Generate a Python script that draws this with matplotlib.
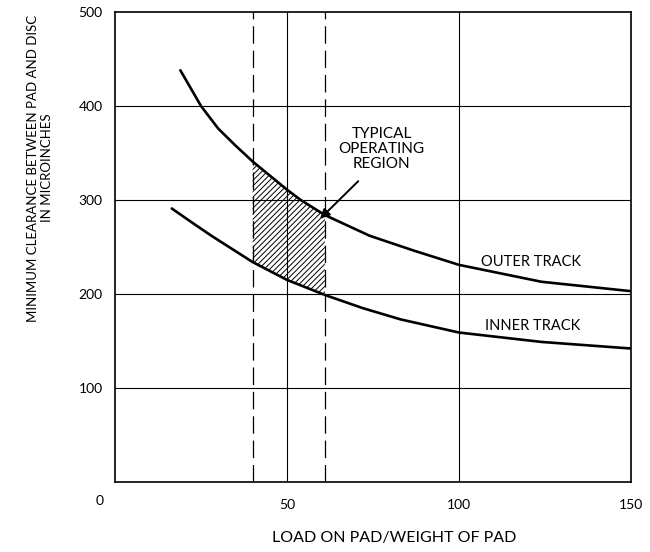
import numpy as np
import matplotlib.pyplot as plt
from matplotlib.patches import Polygon

plt.rcParams['font.family'] = ['Lato', 'DejaVu Sans']
plt.rcParams['hatch.linewidth'] = 0.7

# clearance curves (load, clearance in microinches)
outer_x = [19, 25, 30, 35, 40, 50, 54, 61, 74, 87, 100, 124, 150]
outer_y = [438, 400, 376, 358, 341, 311, 300, 284, 262, 246, 231, 213, 203]
inner_x = [16.5, 22, 28, 34, 40, 50, 61, 72, 83, 100, 124, 150]
inner_y = [291, 277, 262, 248, 234, 215, 199, 185, 173, 159, 149, 142]

# typical operating range of load
region_lo = 40
region_hi = 61

x_ticks = [50, 100, 150]
y_ticks = [100, 200, 300, 400, 500]

fig = plt.figure(figsize=(6.5, 5.52), dpi=100)
ax = fig.add_axes([115/650, 1 - 482/552, (631 - 115)/650, (482 - 12)/552])
ax.set_xlim(0, 150)
ax.set_ylim(0, 500)

# grid
for y in y_ticks[:-1]:
    ax.axhline(y, color='black', lw=0.8)
for x in [50, 100]:
    ax.axvline(x, color='black', lw=0.8)
for x in [region_lo, region_hi]:
    ax.axvline(x, color='black', lw=0.9, ls=(0, (14, 5.5)))

# hatched operating region between the two tracks
pts = [(x, y) for x, y in zip(outer_x, outer_y) if region_lo <= x <= region_hi]
pts += [(x, y) for x, y in zip(inner_x, inner_y) if region_lo <= x <= region_hi][::-1]
ax.add_patch(Polygon(pts, closed=True, facecolor='none', edgecolor='black',
                     hatch='//////', lw=0))

ax.plot(outer_x, outer_y, color='black', lw=1.9, solid_capstyle='round')
ax.plot(inner_x, inner_y, color='black', lw=1.9, solid_capstyle='round')

ax.text(121, 234, 'OUTER TRACK', ha='center', va='center', fontsize=10.5)
ax.text(121.5, 166, 'INNER TRACK', ha='center', va='center', fontsize=10.5)
ax.text(77.5, 354, 'TYPICAL\nOPERATING\nREGION', ha='center', va='center',
        fontsize=11, linespacing=1.1)
ax.annotate('', xy=(59.6, 280), xytext=(70.7, 320),
            arrowprops=dict(arrowstyle='-|>', color='black', lw=1.4,
                            mutation_scale=14, shrinkA=0, shrinkB=0))

ax.set_xticks(x_ticks)
ax.set_yticks(y_ticks)
ax.tick_params(length=0, labelsize=10)
ax.tick_params(axis='x', pad=12)
ax.tick_params(axis='y', pad=9)
for s in ax.spines.values():
    s.set_linewidth(1.2)

# shared origin label
ax.text(-15/516, -19/470, '0', transform=ax.transAxes, ha='center', va='center',
        fontsize=10)

fig.text(394/650, 1 - 538/552, 'LOAD ON PAD/WEIGHT OF PAD', ha='center',
         va='center', fontsize=11.5)
fig.text(40/650, 1 - 168/552, 'MINIMUM CLEARANCE BETWEEN PAD AND DISC\nIN MICROINCHES',
         ha='center', va='center', rotation=90, fontsize=9.5, linespacing=1.15)

fig.savefig('out.png', dpi=100)
